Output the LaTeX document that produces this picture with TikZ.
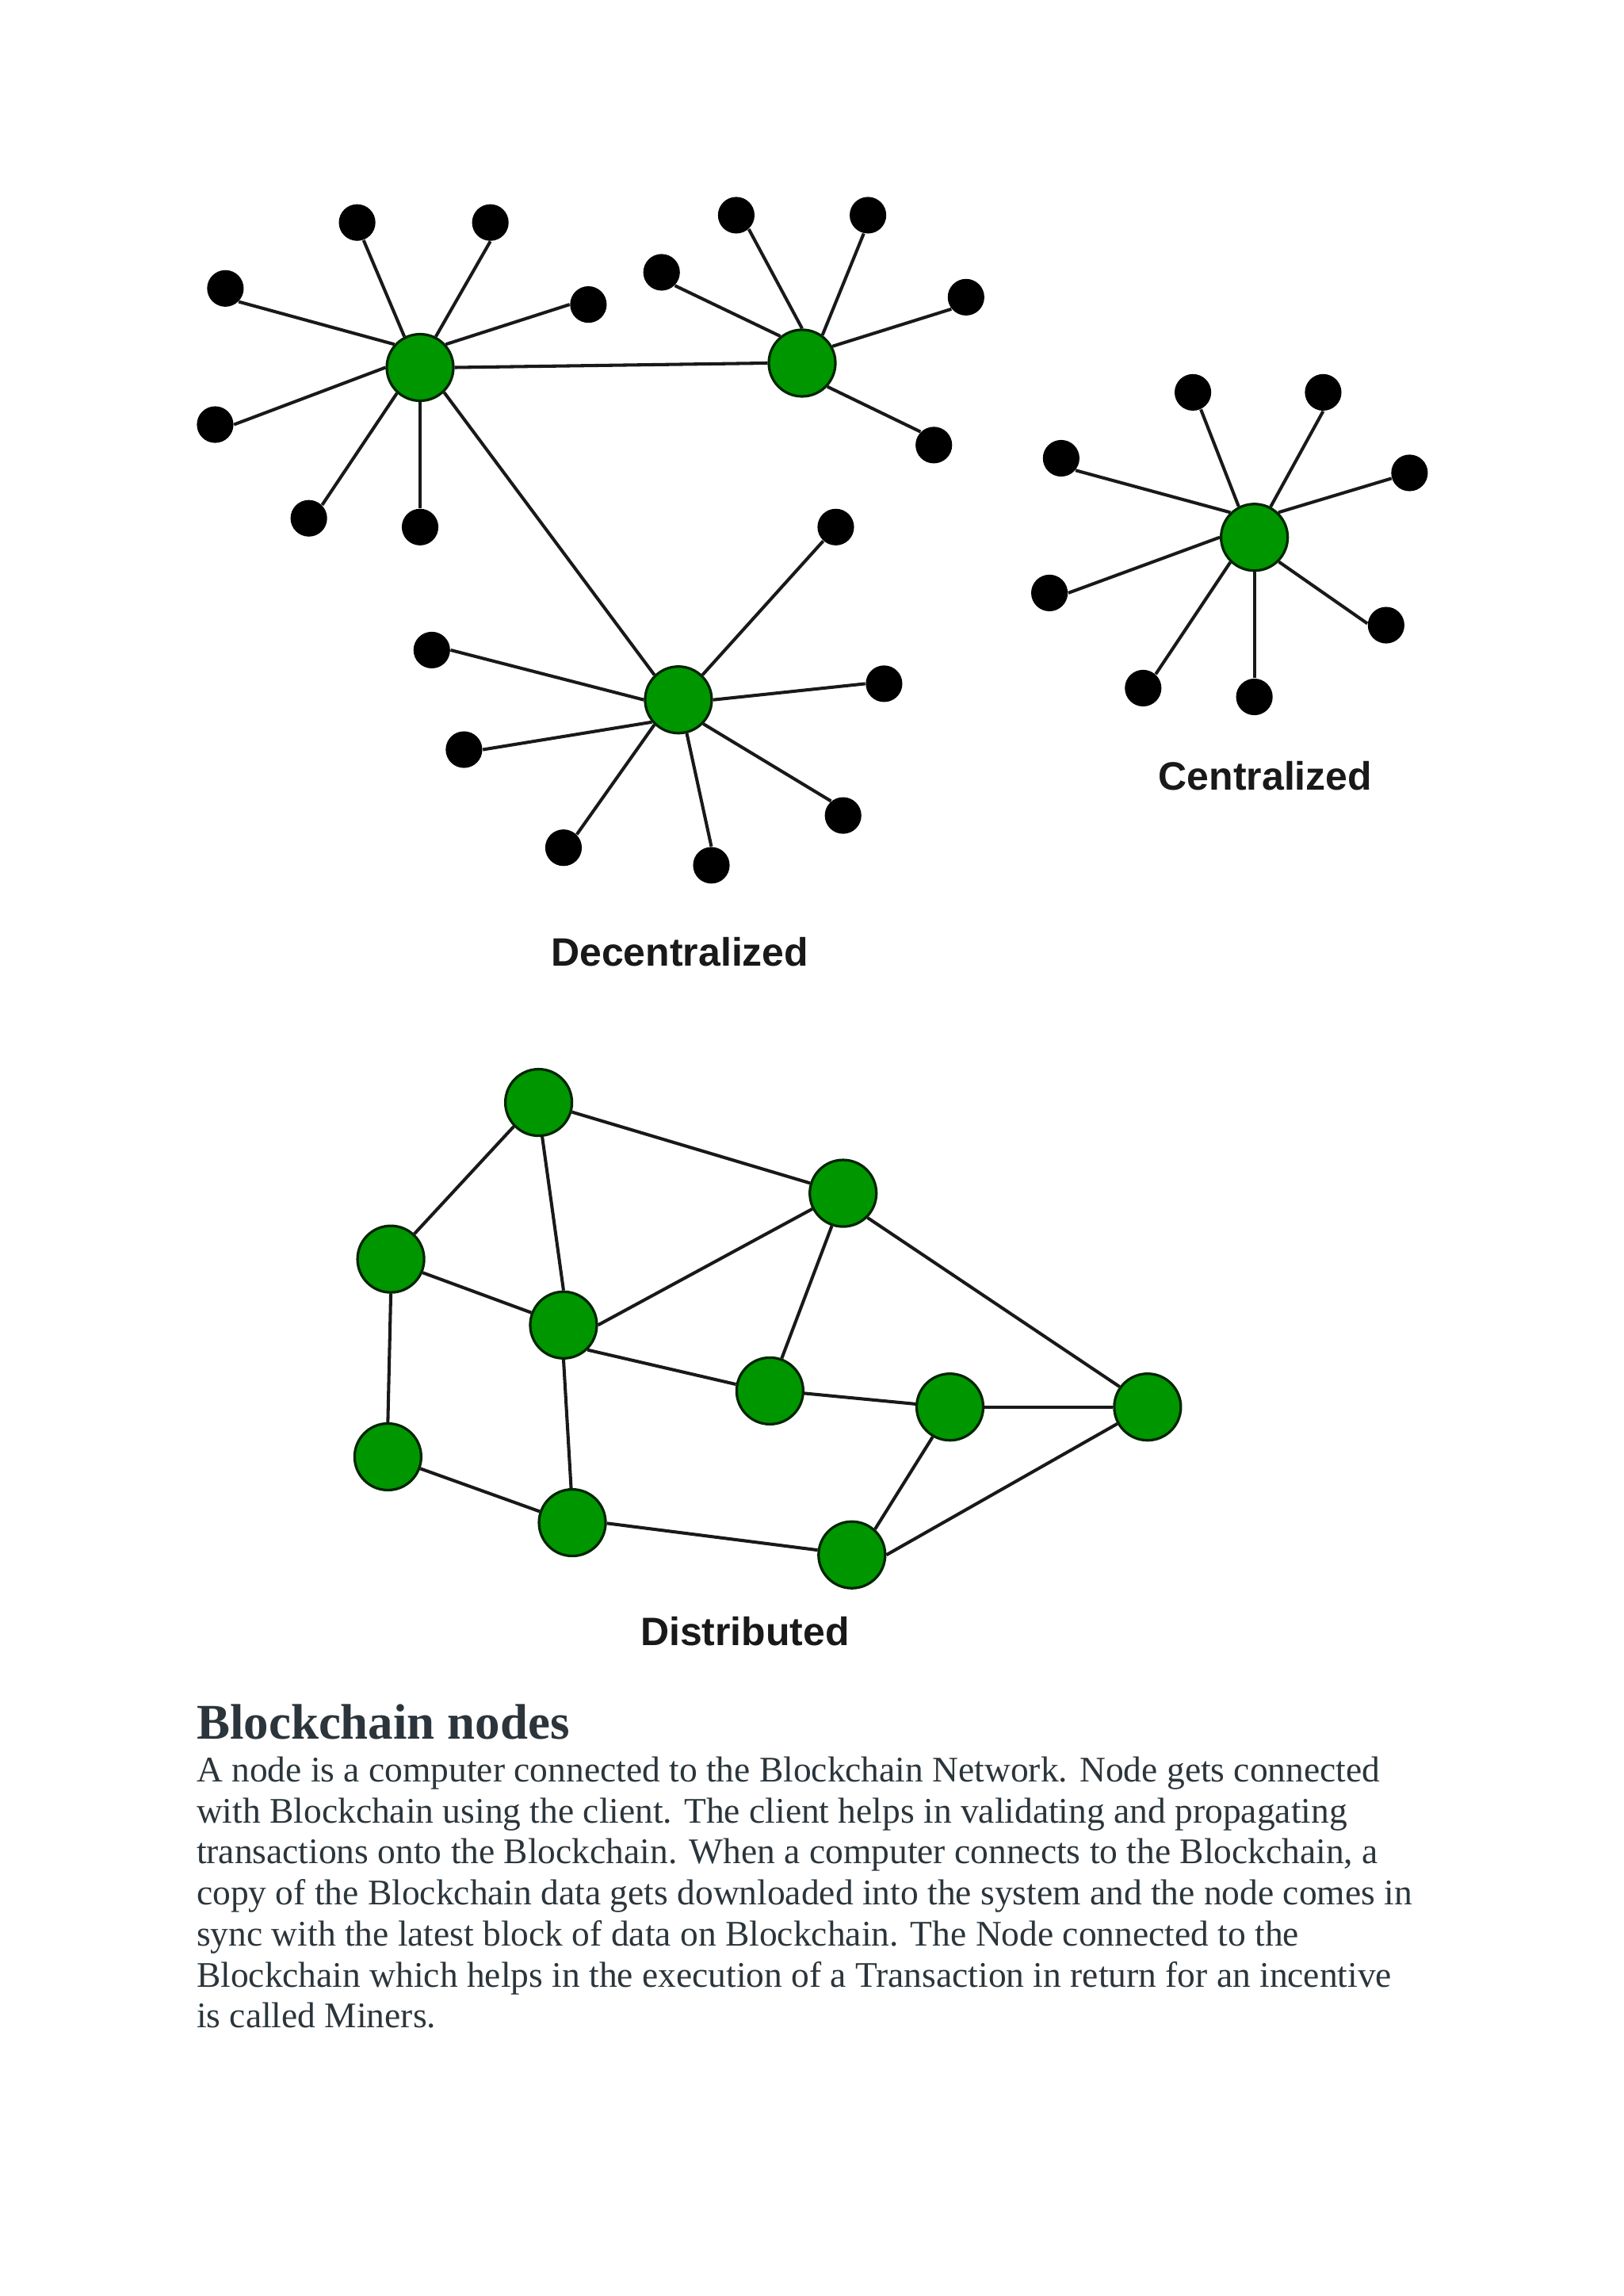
\documentclass[tikz,border=0pt]{standalone}
\usepackage{fontspec}
\setmainfont{Liberation Serif}
\newfontfamily\captionfont{Liberation Sans}
\definecolor{NodeGreen}{RGB}{0,150,0}
\definecolor{ArticleInk}{RGB}{43,53,59}
\colorlet{NodeEdge}{NodeGreen!25!black}
\tikzset{
    hub/.style = {circle, draw = NodeEdge, line width = 1pt, fill = NodeGreen, inner sep = 0pt, minimum size = 0.91cm},
    leaf/.style = {circle, fill = black, inner sep = 0pt, minimum size = 0.5cm},
    link/.style = {draw = black!90, line width = 1.25pt},
    netname/.style = {font = \captionfont\bfseries\fontsize{15.4}{18}\selectfont, text = black!90},
    heading/.style = {anchor = base west, inner sep = 0pt, text = ArticleInk, font = \bfseries\fontsize{19.4}{22}\selectfont},
    bodytext/.style = {anchor = base west, inner sep = 0pt, text = ArticleInk, font = \fontsize{14.02}{16}\selectfont}
}

\begin{document}
\begin{tikzpicture}[x = 0.02cm, y = -0.02cm]

\useasboundingbox (0, 0) rectangle (1109, 1568.2);

% Decentralized
\node[hub] (L) at (287, 251) {};
\node[hub] (R) at (548, 248) {};
\node[hub] (S) at (463.5, 478) {};

\node[leaf] (L1) at (244, 152) {};
\node[leaf] (L2) at (335, 152) {};
\node[leaf] (L3) at (402, 208) {};
\node[leaf] (L4) at (154, 197) {};
\node[leaf] (L5) at (147, 290) {};
\node[leaf] (L6) at (211, 354) {};
\node[leaf] (L7) at (287, 360) {};

\node[leaf] (R1) at (503, 147) {};
\node[leaf] (R2) at (593, 147) {};
\node[leaf] (R3) at (660, 203) {};
\node[leaf] (R4) at (452, 186) {};
\node[leaf] (R5) at (638, 304) {};

\node[leaf] (S1) at (571, 360) {};
\node[leaf] (S2) at (604, 467) {};
\node[leaf] (S3) at (576, 557) {};
\node[leaf] (S4) at (486, 591) {};
\node[leaf] (S5) at (385, 579) {};
\node[leaf] (S6) at (317, 512) {};
\node[leaf] (S7) at (295, 444) {};

\draw[link] (L.117) -- (L1.-70);
\draw[link] (L.63) -- (L2.-90);
\draw[link] (L.42) -- (L3.180);
\draw[link] (L.138) -- (L4.-45);
\draw[link] (L.180) -- (L5.0);
\draw[link] (L.228) -- (L6.45);
\draw[link] (L.270) -- (L7.90);
\draw[link] (R.90) -- (R1.-48);
\draw[link] (R.54) -- (R2.-103);
\draw[link] (R.29) -- (R3.219);
\draw[link] (R.129) -- (R4.-45);
\draw[link] (R.-43) -- (R5.135);
\draw[link] (S.46) -- (S1.228);
\draw[link] (S.0) -- (S2.180);
\draw[link] (S.-44) -- (S3.130);
\draw[link] (S.-76) -- (S4.90);
\draw[link] (S.226) -- (S5.45);
\draw[link] (S.220) -- (S6.0);
\draw[link] (S.180) -- (S7.0);
\draw[link] (L.0) -- (R.180);
\draw[link] (L.-46) -- (S.134);

\node[netname] (decentralized) at (464.5, 650) {Decentralized};

% Centralized
\node[hub] (C) at (857, 367) {};

\node[leaf] (C1) at (815, 268) {};
\node[leaf] (C2) at (904, 268) {};
\node[leaf] (C3) at (963, 323) {};
\node[leaf] (C4) at (725, 313) {};
\node[leaf] (C5) at (717, 405) {};
\node[leaf] (C6) at (781, 470) {};
\node[leaf] (C7) at (857, 476) {};
\node[leaf] (C8) at (947, 427) {};

\draw[link] (C.117) -- (C1.-65);
\draw[link] (C.62) -- (C2.-90);
\draw[link] (C.46) -- (C3.197);
\draw[link] (C.134) -- (C4.-40);
\draw[link] (C.180) -- (C5.0);
\draw[link] (C.226) -- (C6.48);
\draw[link] (C.270) -- (C7.90);
\draw[link] (C.-45) -- (C8.175);

\node[netname] (centralized) at (864.5, 530) {Centralized};

% Distributed
\node[hub] (A) at (368, 753) {};
\node[hub] (B) at (576, 815) {};
\node[hub] (D) at (267, 860) {};
\node[hub] (E) at (385, 905) {};
\node[hub] (F) at (526, 950) {};
\node[hub] (G) at (649, 961) {};
\node[hub] (H) at (784, 961) {};
\node[hub] (I) at (265, 995) {};
\node[hub] (J) at (391, 1040) {};
\node[hub] (K) at (582, 1062) {};

\draw[link] (A.-16) -- (B.163);
\draw[link] (A.224) -- (D.47);
\draw[link] (A.-84) -- (E.90);
\draw[link] (B.207) -- (E.0);
\draw[link] (B.251) -- (F.70);
\draw[link] (B.-45) -- (H.144);
\draw[link] (D.-23) -- (E.159);
\draw[link] (D.270) -- (I.90);
\draw[link] (E.-46) -- (F.169);
\draw[link] (E.270) -- (J.92);
\draw[link] (F.-4) -- (G.175);
\draw[link] (G.0) -- (H.180);
\draw[link] (G.240) -- (K.48);
\draw[link] (H.209) -- (K.0);
\draw[link] (I.-20) -- (J.161);
\draw[link] (J.-1) -- (K.172);

\node[netname] (distributed) at (509, 1114) {Distributed};

% Article text
\node[heading] (title) at (134, 1188) {Blockchain nodes};
\node[bodytext] (line1) at (134, 1217) {A node is a computer connected to the Blockchain Network. Node gets connected};
\node[bodytext] (line2) at (134, 1245) {with Blockchain using the client. The client helps in validating and propagating};
\node[bodytext] (line3) at (134, 1273) {transactions onto the Blockchain. When a computer connects to the Blockchain, a};
\node[bodytext] (line4) at (134, 1301) {copy of the Blockchain data gets downloaded into the system and the node comes in};
\node[bodytext] (line5) at (134, 1329) {sync with the latest block of data on Blockchain. The Node connected to the};
\node[bodytext] (line6) at (134, 1357) {Blockchain which helps in the execution of a Transaction in return for an incentive};
\node[bodytext] (line7) at (134, 1385) {is called Miners.};

\end{tikzpicture}
\end{document}
